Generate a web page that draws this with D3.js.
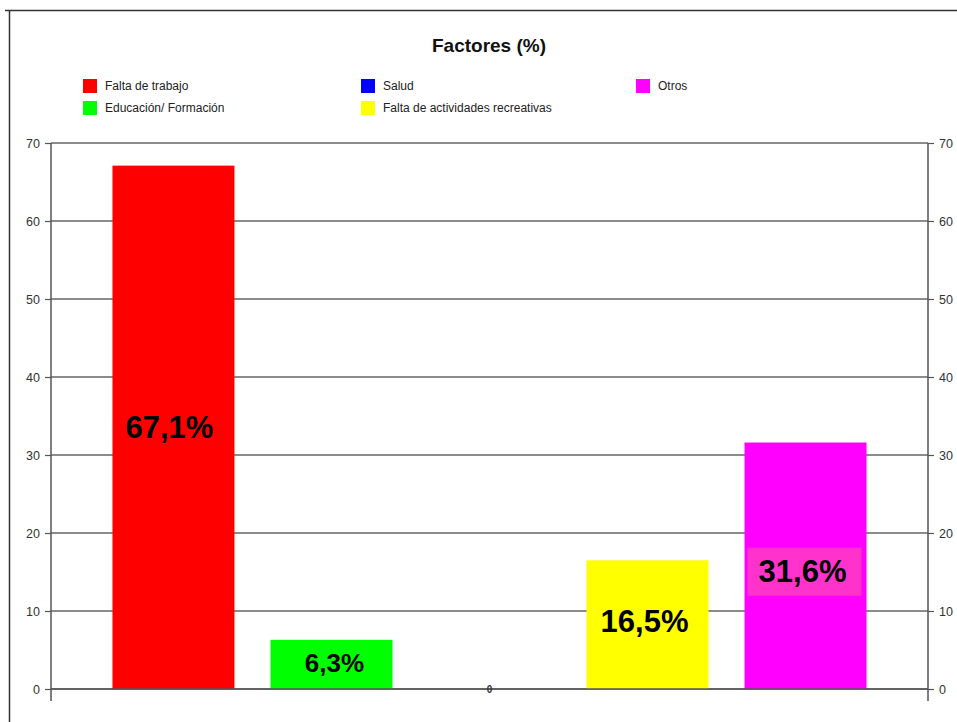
<!DOCTYPE html>
<html>
<head>
<meta charset="utf-8">
<script src="https://cdn.jsdelivr.net/npm/d3@7"></script>
<style>
  html, body { margin: 0; padding: 0; background: #fff; }
  svg { display: block; font-family: Arial, "Liberation Sans", sans-serif; }
</style>
</head>
<body>
<svg id="chart" width="957" height="722"></svg>
<script>
const categories = ["Falta de trabajo", "Educación/ Formación", "Salud", "Falta de actividades recreativas", "Otros"];
const values = [67.1, 6.3, 0, 16.5, 31.6];
const labels = ["67,1%", "6,3%", "0", "16,5%", "31,6%"];
const colors = ["#ff0000", "#00ff00", "#0000ff", "#ffff00", "#ff00ff"];
const yTicks = [0, 10, 20, 30, 40, 50, 60, 70];
const legendOrder = ["Falta de trabajo", "Salud", "Otros", "Educación/ Formación", "Falta de actividades recreativas"];

const svg = d3.select("#chart");
const W = 957, H = 722;
const m = { left: 51, right: 928, top: 143, bottom: 689 };

// outer frame
svg.append("line").attr("x1", 5).attr("x2", W).attr("y1", 10.5).attr("y2", 10.5)
  .attr("stroke", "#333").attr("stroke-width", 1.5);
svg.append("line").attr("x1", 9.5).attr("x2", 9.5).attr("y1", 10).attr("y2", H)
  .attr("stroke", "#333").attr("stroke-width", 1.5);

// title
svg.append("text").attr("x", 489).attr("y", 52).attr("text-anchor", "middle")
  .attr("font-size", 19).attr("font-weight", "bold").attr("fill", "#111")
  .text("Factores (%)");

// legend
const legPos = [[83, 86], [361, 86], [636, 86], [83, 108], [361, 108]];
const leg = svg.append("g");
legendOrder.forEach((name, i) => {
  const idx = categories.indexOf(name);
  const [lx, ly] = legPos[i];
  leg.append("rect").attr("x", lx).attr("y", ly - 7).attr("width", 14).attr("height", 14)
    .attr("fill", colors[idx]);
  leg.append("text").attr("x", lx + 22).attr("y", ly + 4).attr("font-size", 12)
    .attr("fill", "#222").text(name);
});

const y = d3.scaleLinear().domain([0, 70]).range([m.bottom, m.top]);
const x = d3.scaleBand().domain(categories).range([m.left, m.right])
  .paddingInner(0.228).paddingOuter(0.389);

// gridlines
svg.append("g").selectAll("line").data(yTicks).join("line")
  .attr("x1", m.left).attr("x2", m.right)
  .attr("y1", d => y(d)).attr("y2", d => y(d))
  .attr("stroke", "#666").attr("stroke-width", 1.5);

// bars
svg.append("g").selectAll("rect").data(categories).join("rect")
  .attr("x", d => x(d)).attr("width", x.bandwidth())
  .attr("y", (d, i) => y(values[i])).attr("height", (d, i) => y(0) - y(values[i]))
  .attr("fill", (d, i) => colors[i]);

// axes
const leftAxis = d3.axisLeft(y).tickValues(yTicks).tickSize(6).tickPadding(5);
const rightAxis = d3.axisRight(y).tickValues(yTicks).tickSize(6).tickPadding(5);
function styleAxis(g) {
  g.select(".domain").remove();
  g.selectAll(".tick line").attr("stroke", "#555").attr("stroke-width", 1.2);
  g.selectAll(".tick text").attr("font-size", 12.5).attr("fill", "#333")
    .attr("font-family", "Arial, 'Liberation Sans', sans-serif");
}
svg.append("g").attr("transform", `translate(${m.left},0)`).call(leftAxis).call(styleAxis);
svg.append("g").attr("transform", `translate(${m.right},0)`).call(rightAxis).call(styleAxis);
svg.append("line").attr("x1", m.left).attr("x2", m.left).attr("y1", m.top).attr("y2", 701)
  .attr("stroke", "#555").attr("stroke-width", 1.5);
svg.append("line").attr("x1", m.right).attr("x2", m.right).attr("y1", m.top).attr("y2", 701)
  .attr("stroke", "#555").attr("stroke-width", 1.5);
svg.append("line").attr("x1", m.left).attr("x2", m.right).attr("y1", y(0)).attr("y2", y(0))
  .attr("stroke", "#555").attr("stroke-width", 1.5);

// value labels
const labelSize = [31, 26, 10, 31, 31];
const labelDy = [0, -1, 0, -3, 6];
const labelDx = [-4, 3, 0, -3, -3];
const lg = svg.append("g");
categories.forEach((c, i) => {
  const cx = x(c) + x.bandwidth() / 2;
  const cy = y(values[i] / 2) + labelDy[i];
  if (i === 4) {
    lg.append("rect").attr("x", cx - 58).attr("y", cy - 24).attr("width", 114).attr("height", 48)
      .attr("fill", "#ff33cc");
  }
  lg.append("text").attr("x", cx + labelDx[i]).attr("y", cy)
    .attr("text-anchor", "middle").attr("dominant-baseline", "central")
    .attr("font-size", labelSize[i]).attr("font-weight", "bold").attr("fill", i === 2 ? "#333" : "#000")
    .text(labels[i]);
});
</script>
</body>
</html>
